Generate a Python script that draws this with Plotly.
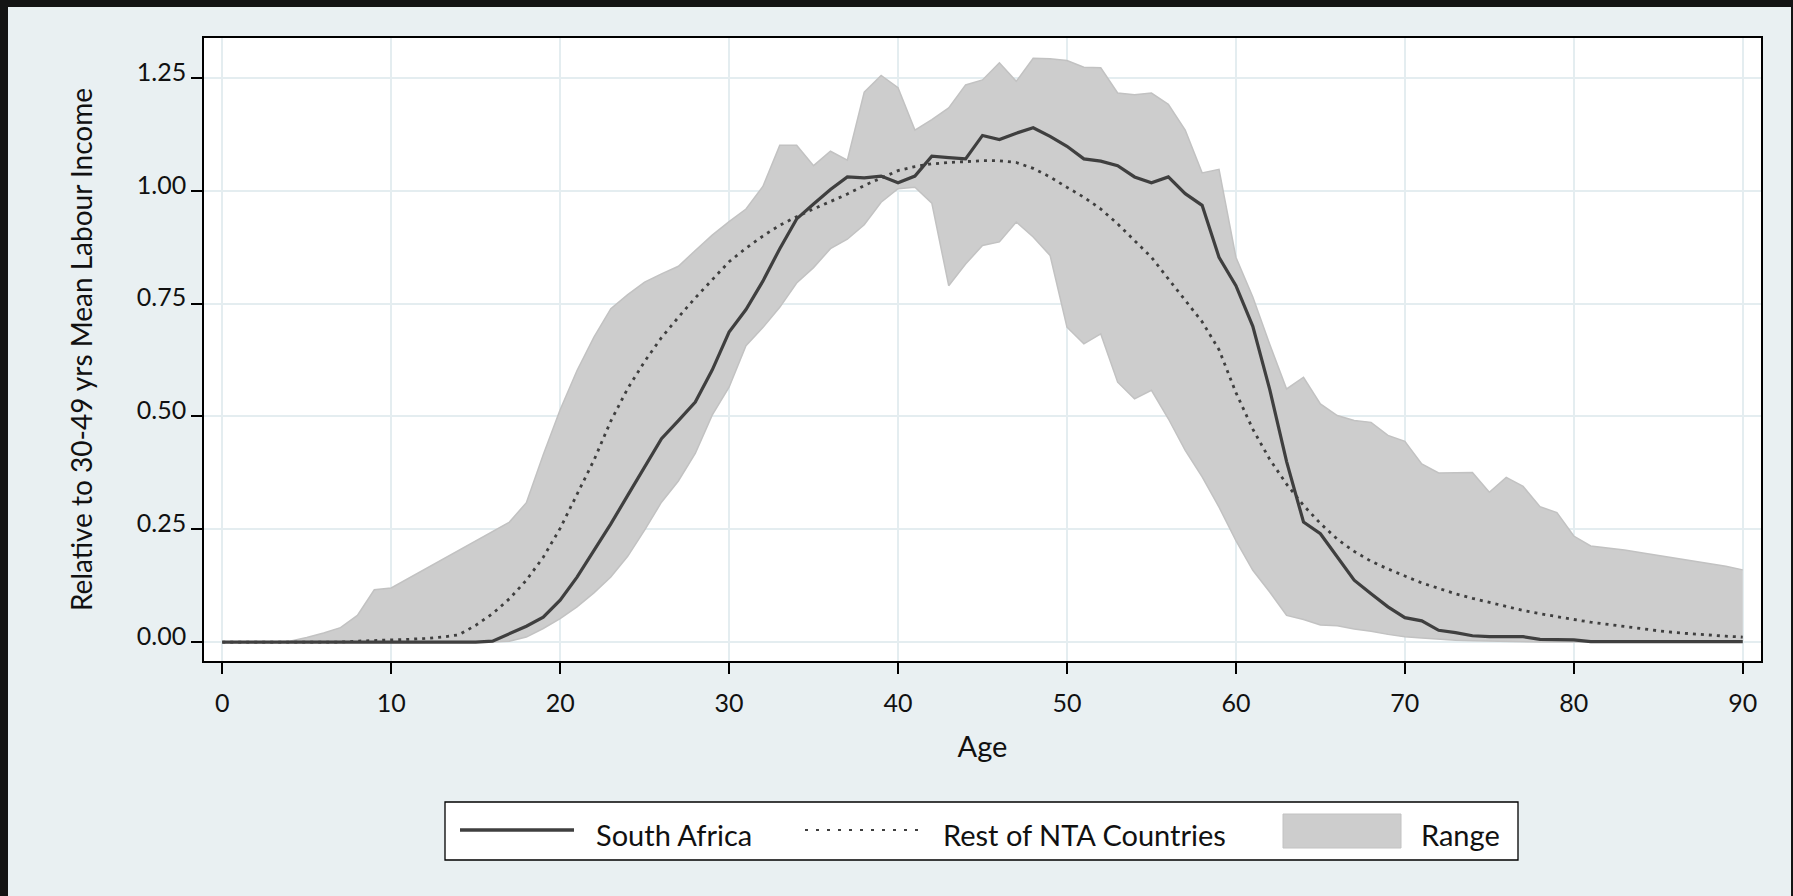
import plotly.graph_objects as go

ages = list(range(0, 91))

south_africa = [0, 0, 0, 0, 0, 0, 0, 0, 0, 0, 0, 0, 0, 0, 0, 0, 0.002,
                0.019, 0.035, 0.055, 0.093, 0.144, 0.203, 0.262, 0.325, 0.388, 0.451,
                0.491, 0.532, 0.603, 0.687, 0.737, 0.800, 0.872, 0.938, 0.971, 1.003,
                1.031, 1.029, 1.033, 1.018, 1.033, 1.077, 1.074, 1.071, 1.123, 1.114,
                1.128, 1.140, 1.121, 1.099, 1.071, 1.066, 1.056, 1.031, 1.018, 1.031,
                0.994, 0.968, 0.853, 0.790, 0.700, 0.560, 0.400, 0.266, 0.240, 0.188,
                0.137, 0.107, 0.078, 0.054, 0.047, 0.026, 0.021, 0.014, 0.012, 0.012,
                0.012, 0.006, 0.006, 0.005, 0.001, 0.001, 0.001, 0.001, 0.001, 0.001,
                0.001, 0.001, 0.001, 0.001]

rest_nta = [0, 0, 0, 0, 0, 0, 0, 0, 0.002, 0.003, 0.004, 0.006, 0.008, 0.011,
            0.016, 0.037, 0.063, 0.096, 0.137, 0.188, 0.252, 0.327, 0.403, 0.490,
            0.562, 0.622, 0.675, 0.720, 0.763, 0.803, 0.843, 0.873, 0.900, 0.924,
            0.943, 0.960, 0.976, 0.993, 1.012, 1.029, 1.045, 1.054, 1.060, 1.063,
            1.065, 1.067, 1.067, 1.063, 1.050, 1.031, 1.008, 0.986, 0.960, 0.927,
            0.890, 0.853, 0.805, 0.757, 0.710, 0.648, 0.553, 0.472, 0.405, 0.350,
            0.303, 0.263, 0.228, 0.201, 0.179, 0.162, 0.146, 0.131, 0.119, 0.107,
            0.097, 0.088, 0.079, 0.070, 0.063, 0.056, 0.050, 0.044, 0.039, 0.034,
            0.029, 0.025, 0.021, 0.018, 0.015, 0.013, 0.011]

range_upper = [0, 0, 0, 0, 0.002, 0.010, 0.020, 0.032, 0.059, 0.116, 0.120,
               0.141, 0.162, 0.183, 0.204, 0.225, 0.245, 0.266, 0.309, 0.415, 0.515,
               0.602, 0.676, 0.739, 0.770, 0.798, 0.816, 0.833, 0.868, 0.902, 0.932,
               0.960, 1.010, 1.101, 1.101, 1.056, 1.088, 1.068, 1.219, 1.256, 1.229,
               1.135, 1.158, 1.184, 1.235, 1.246, 1.284, 1.243, 1.294, 1.293, 1.289,
               1.274, 1.273, 1.217, 1.213, 1.217, 1.192, 1.135, 1.040, 1.048, 0.853,
               0.765, 0.660, 0.561, 0.587, 0.528, 0.502, 0.491, 0.487, 0.458, 0.445,
               0.395, 0.375, 0.376, 0.376, 0.332, 0.365, 0.345, 0.300, 0.287, 0.235,
               0.213, 0.209, 0.204, 0.198, 0.192, 0.186, 0.180, 0.174, 0.168, 0.160]

range_lower = [0, 0, 0, 0, 0, 0, 0, 0, 0, 0, 0, 0, 0, 0, 0, 0, 0,
               0.002, 0.011, 0.030, 0.052, 0.078, 0.109, 0.144, 0.190, 0.248, 0.310,
               0.357, 0.418, 0.503, 0.565, 0.657, 0.697, 0.742, 0.796, 0.830, 0.872,
               0.893, 0.925, 0.975, 1.005, 1.008, 0.973, 0.790, 0.838, 0.879, 0.887,
               0.931, 0.898, 0.857, 0.698, 0.661, 0.683, 0.576, 0.539, 0.558, 0.495,
               0.425, 0.366, 0.299, 0.225, 0.159, 0.111, 0.059, 0.050, 0.038, 0.036,
               0.029, 0.024, 0.017, 0.012, 0.009, 0.006, 0.004, 0.003, 0.002, 0.001,
               0, 0, 0, 0, 0, 0, 0, 0, 0, 0, 0, 0, 0, 0]

x_ticks = [0, 10, 20, 30, 40, 50, 60, 70, 80, 90]
y_ticks = [0.00, 0.25, 0.50, 0.75, 1.00, 1.25]
legend_labels = ["South Africa", "Rest of NTA Countries", "Range"]
x_title = "Age"
y_title = "Relative to 30-49 yrs Mean Labour Income"

# ---- styling / layout ----
W, H = 1793, 896
ML, MR, MT, MB = 204, 32, 38, 235
PW, PH = W - ML - MR, H - MT - MB
BG = "#e9f0f2"
GRID = "#e4edf0"
LINE_C = "#3f3f3f"
FILL_C = "#cdcdcd"
EDGE_C = "#c2c2c2"
FONT = "Lato"
TXT = "#111111"


def px(x):
    return (x - ML) / PW


def py(y):
    return (H - MB - y) / PH


fig = go.Figure()
fig.add_trace(go.Scatter(x=ages, y=range_lower, mode="lines",
                         line=dict(color=EDGE_C, width=1.5), showlegend=False,
                         hoverinfo="skip"))
fig.add_trace(go.Scatter(x=ages, y=range_upper, mode="lines", fill="tonexty",
                         fillcolor=FILL_C, line=dict(color=EDGE_C, width=1.5),
                         name=legend_labels[2], showlegend=False))
fig.add_trace(go.Scatter(x=ages, y=rest_nta, mode="lines",
                         line=dict(color=LINE_C, width=2.8, dash="3px,5px"),
                         name=legend_labels[1], showlegend=False))
fig.add_trace(go.Scatter(x=ages, y=south_africa, mode="lines",
                         line=dict(color=LINE_C, width=3.2),
                         name=legend_labels[0], showlegend=False))

shapes = []
# dark outer border
DARK = "#141414"
for (x0, y0, x1, y1) in [(0, 0, 8, H), (0, 0, W, 7), (W - 2, 0, W, H)]:
    shapes.append(dict(type="rect", xref="paper", yref="paper",
                       x0=px(x0), x1=px(x1), y0=py(y1), y1=py(y0),
                       fillcolor=DARK, line=dict(width=0), layer="above"))

# manual legend
LB = (445, 802, 1518, 860)
shapes.append(dict(type="rect", xref="paper", yref="paper",
                   x0=px(LB[0]), x1=px(LB[2]), y0=py(LB[3]), y1=py(LB[1]),
                   fillcolor="white", line=dict(color="black", width=1.3)))
shapes.append(dict(type="line", xref="paper", yref="paper",
                   x0=px(460), x1=px(574), y0=py(830), y1=py(830),
                   line=dict(color=LINE_C, width=3.5)))
shapes.append(dict(type="line", xref="paper", yref="paper",
                   x0=px(805), x1=px(918), y0=py(830), y1=py(830),
                   line=dict(color=LINE_C, width=2.2, dash="3px,8px")))
shapes.append(dict(type="rect", xref="paper", yref="paper",
                   x0=px(1283), x1=px(1401), y0=py(848), y1=py(814),
                   fillcolor=FILL_C, line=dict(color=EDGE_C, width=1)))

annotations = []
for label, xpos in zip(legend_labels, [594, 941, 1419]):
    annotations.append(dict(text=label, xref="paper", yref="paper",
                            x=px(xpos), y=py(834), xanchor="left", yanchor="middle",
                            showarrow=False, font=dict(family=FONT, size=29, color=TXT)))

fig.update_layout(
    width=W, height=H,
    margin=dict(l=ML, r=MR, t=MT, b=MB, pad=0),
    paper_bgcolor=BG, plot_bgcolor="white",
    font=dict(family=FONT, color=TXT),
    shapes=shapes, annotations=annotations,
    showlegend=False,
    xaxis=dict(range=[-1.08, 91.08], tickvals=x_ticks, ticks="outside", ticklen=11,
               tickwidth=1.5, tickcolor="black", showline=True, linecolor="black",
               linewidth=1.6, mirror=True, showgrid=True, gridcolor=GRID, gridwidth=2.2,
               zeroline=False, tickfont=dict(size=25), ticklabelstandoff=8,
               title=dict(text=x_title, font=dict(size=29), standoff=21)),
    yaxis=dict(range=[-0.042, 1.339], tickvals=y_ticks, tickformat=".2f",
               ticks="outside", ticklen=11, tickwidth=1.5, tickcolor="black",
               showline=True, linecolor="black", linewidth=1.6, mirror=True,
               showgrid=True, gridcolor=GRID, gridwidth=2.2, zeroline=False,
               tickfont=dict(size=25), ticklabelshift=-6,
               title=dict(text=y_title, font=dict(size=28), standoff=36)),
)

fig.write_html("out.html")
